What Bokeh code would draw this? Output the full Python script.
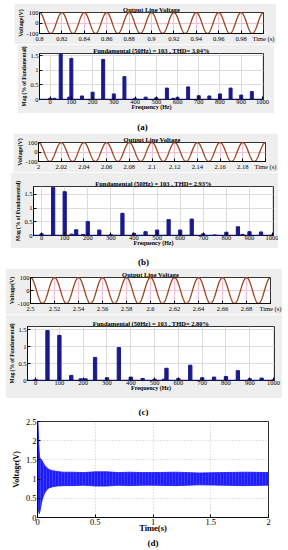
import numpy as np
from bokeh.plotting import figure
from bokeh.models import Range1d, FixedTicker, Label, Span, Spacer, Title
from bokeh.layouts import column, row
from bokeh.embed import file_html
from bokeh.resources import INLINE

SERIF = "Liberation Serif"

# ---------------- data ----------------
# output line voltage: a 50 Hz sine of amplitude ~100 V (peaks on the 0.02 s ticks)
volt_amp = 100.0
volt_freq = 50.0
win_a = (0.80, 1.00)
win_b = (2.00, 2.20)
win_c = (2.50, 2.70)
ticks_a = [0.80, 0.82, 0.84, 0.86, 0.88, 0.90, 0.92, 0.94, 0.96, 0.98, 1.00]
labels_a = ["0.8", "0.82", "0.84", "0.86", "0.88", "0.9", "0.92", "0.94", "0.96", "0.98", "Time (s)"]
ticks_b = [2.00, 2.02, 2.04, 2.06, 2.08, 2.10, 2.12, 2.14, 2.16, 2.18, 2.20]
labels_b = ["2", "2.02", "2.04", "2.06", "2.08", "2.1", "2.12", "2.14", "2.16", "2.18", "Time (s)"]
ticks_c = [2.50, 2.52, 2.54, 2.56, 2.58, 2.60, 2.62, 2.64, 2.66, 2.68, 2.70]
labels_c = ["2.5", "2.52", "2.54", "2.56", "2.58", "2.6", "2.62", "2.64", "2.66", "2.68", "Time (s)"]
volt_ticks = [-100, 0, 100]
volt_labels = ["-100", "0", "100"]

# harmonic spectra (% of fundamental)
freq_a = [0, 20, 50, 90, 100, 150, 200, 250, 300, 350, 400, 450, 500, 550, 580, 600, 650, 700, 750, 800, 850, 900, 950, 1000]
mag_a = [0.04, 0.04, 1.60, 0.08, 1.40, 0.12, 0.25, 1.37, 0.19, 0.78, 0.04, 0.08, 0.06, 0.39, 0.04, 0.07, 0.43, 0.13, 0.12, 0.19, 0.39, 0.15, 0.27, 0.01]
freq_b = [0, 50, 100, 130, 150, 180, 200, 250, 300, 350, 400, 450, 500, 550, 600, 650, 700, 750, 800, 850, 870, 900, 950, 1000]
mag_b = [0.06, 1.75, 1.60, 0.05, 0.21, 0.04, 0.51, 0.20, 0.03, 0.81, 0.08, 0.14, 0.20, 0.58, 0.20, 0.60, 0.06, 0.02, 0.12, 0.32, 0.04, 0.14, 0.13, 0.02]
freq_c = [0, 50, 100, 150, 190, 210, 250, 300, 350, 400, 450, 500, 540, 550, 600, 650, 700, 750, 800, 850, 900, 950, 1000]
mag_c = [0.03, 1.47, 1.33, 0.15, 0.05, 0.05, 0.68, 0.08, 0.97, 0.10, 0.06, 0.04, 0.04, 0.36, 0.06, 0.45, 0.08, 0.10, 0.12, 0.29, 0.05, 0.07, 0.02]
title_a = "Fundamental (50Hz) = 103 , THD= 3.04%"
title_b = "Fundamental (50Hz) = 103 , THD= 2.93%"
title_c = "Fundamental (50Hz) = 103 , THD= 2.80%"
freq_ticks = [0, 100, 200, 300, 400, 500, 600, 700, 800, 900, 1000]
mag_ticks = [0, 0.5, 1, 1.5]
mag_labels = ["0", "0.5", "1", "1.5"]

# (d) DC voltage: envelope of the dense ripple band
t_env = [0.0, 0.003, 0.006, 0.010, 0.015, 0.020, 0.030, 0.040, 0.050, 0.065, 0.080, 0.100, 0.130,
         0.170, 0.220, 0.300, 0.400, 0.500, 0.600, 0.700, 0.800, 0.900, 1.000, 1.200, 1.400, 1.600, 1.800, 2.000]
v_upper = [1.00, 2.50, 2.30, 2.00, 1.70, 1.55, 1.52, 1.48, 1.42, 1.35, 1.30, 1.25, 1.22,
           1.20, 1.18, 1.18, 1.17, 1.19, 1.19, 1.17, 1.18, 1.17, 1.17, 1.18, 1.16, 1.17, 1.18, 1.17]
v_lower = [0.00, 0.90, 0.40, 0.15, 0.10, 0.15, 0.30, 0.45, 0.55, 0.65, 0.72, 0.77, 0.80,
           0.82, 0.83, 0.83, 0.84, 0.82, 0.82, 0.84, 0.83, 0.84, 0.84, 0.83, 0.85, 0.84, 0.83, 0.84]
d_xticks = [0, 0.5, 1, 1.5, 2]
d_xlabels = ["0", "0.5", "1", "1.5", "2"]
d_yticks = [0, 0.5, 1, 1.5, 2, 2.5]
d_ylabels = ["0", "0.5", "1", "1.5", "2", "2.5"]

GRAY = "#eeeeee"
BAR = "#1a1a8c"
WAVE = "#9a4420"


def base_fig(w, h, xr, yr, lb, rb, tb, bb, bg=GRAY):
    p = figure(width=w, height=h, x_range=Range1d(*xr), y_range=Range1d(*yr),
               output_backend="svg", toolbar_location=None,
               min_border_left=lb, min_border_right=rb, min_border_top=tb, min_border_bottom=bb,
               border_fill_color=bg, background_fill_color="white",
               outline_line_color="black", outline_line_width=0.8)
    for ax in (p.xaxis[0], p.yaxis[0]):
        ax.major_tick_in = 3
        ax.major_tick_out = 0
        ax.minor_tick_line_color = None
        ax.axis_line_color = "black"
        ax.axis_line_width = 0.8
        ax.major_tick_line_color = "black"
        ax.major_label_text_font = SERIF
        ax.major_label_text_color = "black"
        ax.major_label_standoff = 1
        ax.axis_label_text_font = SERIF
        ax.axis_label_text_font_style = "bold"
        ax.axis_label_text_color = "black"
        ax.axis_label_standoff = 0
    return p


def set_title(p, text, size):
    p.title.text = text
    p.title.align = "center"
    p.title.text_font = SERIF
    p.title.text_font_size = size
    p.title.text_font_style = "bold"
    p.title.text_color = "black"
    p.title.standoff = 0
    p.title.offset = 0


def volt_fig(w, h, win, ticks, labels, lb, rb, tb, bb):
    p = base_fig(w, h, win, (-100, 100), lb, rb, tb, bb)
    t = np.linspace(win[0], win[1], 800)
    v = volt_amp * np.cos(2 * np.pi * volt_freq * t)
    p.line(t, v, line_color=WAVE, line_width=1.3)
    p.xaxis.ticker = FixedTicker(ticks=ticks)
    p.xaxis.major_label_overrides = dict(zip(ticks, labels))
    p.yaxis.ticker = FixedTicker(ticks=volt_ticks)
    p.yaxis.major_label_overrides = dict(zip(volt_ticks, volt_labels))
    p.xaxis.major_label_text_font_size = "6.5px"
    p.yaxis.major_label_text_font_size = "6.5px"
    p.yaxis.axis_label = "Voltage(V)"
    p.yaxis.axis_label_text_font_size = "6px"
    p.xgrid.grid_line_color = "#f6bfd2"
    p.ygrid.grid_line_color = "#f6bfd2"
    set_title(p, "Output Line Voltage", "6.5px")
    return p


def harm_fig(w, h, xr, ymax, freq, mag, title, lb, rb, tb, bb):
    p = base_fig(w, h, xr, (0, ymax), lb, rb, tb, bb)
    p.vbar(x=freq, top=mag, width=14, bottom=0, fill_color=BAR, line_color=BAR)
    p.add_layout(Span(location=0, dimension="width", line_color=BAR, line_width=1.5))
    p.xaxis.ticker = FixedTicker(ticks=freq_ticks)
    p.yaxis.ticker = FixedTicker(ticks=mag_ticks)
    p.yaxis.major_label_overrides = dict(zip(mag_ticks, mag_labels))
    p.xaxis.major_label_text_font_size = "6.5px"
    p.yaxis.major_label_text_font_size = "6.5px"
    p.xaxis.major_label_standoff = 0
    p.xaxis.axis_label = "Frequency (Hz)"
    p.xaxis.axis_label_text_font_size = "6px"
    p.xaxis.axis_label_standoff = -3
    p.yaxis.axis_label = "Mag (% of Fundamental)"
    p.yaxis.axis_label_text_font_size = "5.5px"
    p.xgrid.grid_line_color = "#dcdcdc"
    p.ygrid.grid_line_color = "#dcdcdc"
    set_title(p, title, "6.5px")
    return p


def caption(h, x, y, text):
    p = figure(width=282, height=h, x_range=Range1d(0, 282), y_range=Range1d(0, h),
               output_backend="svg", toolbar_location=None, x_axis_type=None, y_axis_type=None,
               min_border=0, outline_line_color=None, border_fill_color="white")
    p.grid.visible = False
    p.add_layout(Label(x=x, y=y, text=text, text_font=SERIF, text_font_size="9px",
                       text_font_style="bold", text_align="center", text_baseline="middle",
                       text_color="black"))
    return p


# page is drawn from (0,0) (Bokeh's template sets no body margin)
a1 = volt_fig(262, 41, win_a, ticks_a, labels_a, 20, 13, 8, 10)                   # x 14-276, y 3-44
a2 = harm_fig(257, 69, (-50, 1005), 1.57, freq_a, mag_a, title_a, 22, 11, 7, 14)  # x 17-274, y 44-113
cap_a = caption(20, 142, 7, "(a)")                                                # y 113-133
b1 = volt_fig(265, 39, win_b, ticks_b, labels_b, 20, 13, 7, 8)                    # x 13-278, y 133-172
b2 = harm_fig(268, 76, (-35, 1004), 1.79, freq_b, mag_b, title_b, 23, 5, 14, 12)  # x 10-278, y 172-248
cap_b = caption(20, 143, 7, "(b)")                                                # y 248-268
c1 = volt_fig(277, 46, win_c, ticks_c, labels_c, 20, 12, 7, 8)                    # x 5-282, y 268-314
c2 = harm_fig(277, 84, (-34, 1004), 1.59, freq_c, mag_c, title_c, 22, 8, 12, 18)  # x 5-282, y 314-398
cap_c = caption(18, 143, 4.5, "(c)")                                              # y 398-416

d = base_fig(272, 132, (0, 2), (0, 2.5), 29, 12, 5, 31, bg="white")              # x 8-280, y 416-548
d.varea(x=t_env, y1=v_lower, y2=v_upper, fill_color="#1c1cff",
        hatch_pattern="vertical_line", hatch_color="#7d7dff", hatch_alpha=0.6, hatch_scale=3, hatch_weight=0.6)
d.line(t_env, v_upper, line_color="#1c1cff", line_width=0.8)
d.line(t_env, v_lower, line_color="#1c1cff", line_width=0.8)
d.xaxis.ticker = FixedTicker(ticks=d_xticks)
d.xaxis.major_label_overrides = dict(zip(d_xticks, d_xlabels))
d.yaxis.ticker = FixedTicker(ticks=d_yticks)
d.yaxis.major_label_overrides = dict(zip(d_yticks, d_ylabels))
d.xaxis.major_label_text_font_size = "8.5px"
d.yaxis.major_label_text_font_size = "8.5px"
d.xaxis.axis_label = "Time(s)"
d.xaxis.axis_label_text_font_size = "8.5px"
d.xaxis.axis_label_standoff = -5
d.yaxis.axis_label = "Voltage(V)"
d.yaxis.axis_label_text_font_size = "8px"
d.yaxis.axis_label_standoff = 2
d.xgrid.grid_line_color = "#c8c8c8"
d.ygrid.grid_line_color = "#c8c8c8"
d.xgrid.grid_line_dash = "1 2"
d.ygrid.grid_line_dash = "1 2"
d.add_layout(Title(text="(d)", align="center", text_font=SERIF, text_font_size="9px",
                   text_font_style="bold", text_color="black", standoff=0), "below")

layout = column(
    Spacer(height=3),
    row(Spacer(width=14), a1),
    row(Spacer(width=17), a2),
    cap_a,
    row(Spacer(width=13), b1),
    row(Spacer(width=10), b2),
    cap_b,
    row(Spacer(width=5), c1),
    row(Spacer(width=5), c2),
    cap_c,
    row(Spacer(width=8), d),
    spacing=0,
)

open("out.html", "w").write(file_html(layout, INLINE))
